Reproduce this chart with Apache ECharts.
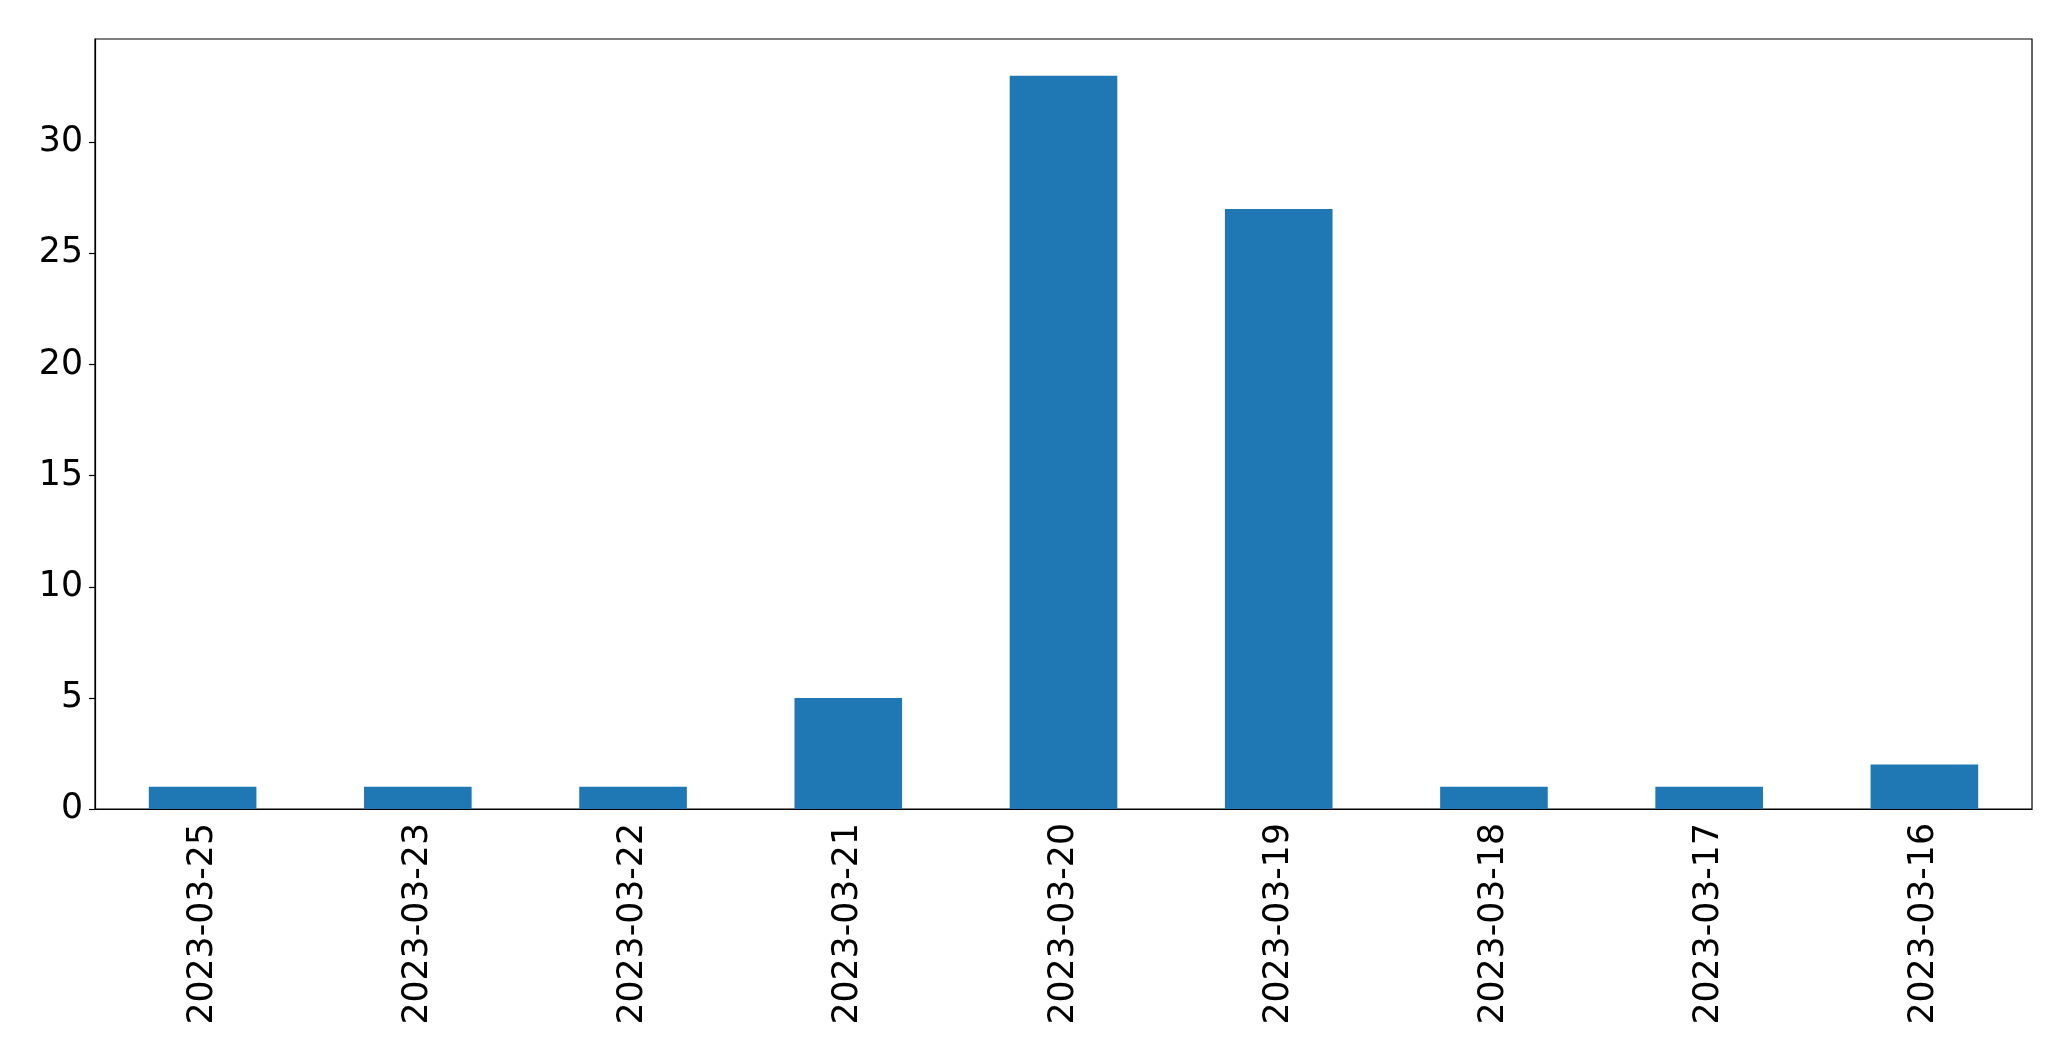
<!DOCTYPE html>
<html>
<head>
<meta charset="utf-8">
<script src="https://cdn.jsdelivr.net/npm/echarts@6/dist/echarts.min.js"></script>
<style>html,body{margin:0;padding:0;background:#fff}#c{width:2071px;height:1061px}</style>
</head>
<body>
<div id="c"></div>
<script>
const categories = ["2023-03-25","2023-03-23","2023-03-22","2023-03-21","2023-03-20","2023-03-19","2023-03-18","2023-03-17","2023-03-16"];
const values = [1, 1, 1, 5, 33, 27, 1, 1, 2];
const yTicks = [0, 5, 10, 15, 20, 25, 30];

const chart = echarts.init(document.getElementById('c'), null, {renderer: 'canvas'});
const font = 'DejaVu Sans';
chart.setOption({
  animation: false,
  backgroundColor: '#ffffff',
  grid: {left: 95, right: 39, top: 39, bottom: 252, show: true, borderColor: '#000', borderWidth: 1.2, backgroundColor: 'transparent'},
  xAxis: {
    type: 'category',
    data: categories,
    axisLine: {lineStyle: {color: '#000', width: 1.2}},
    axisTick: {alignWithLabel: true, length: 6, lineStyle: {color: '#000', width: 1.2}},
    axisLabel: {rotate: 90, margin: 14, color: '#000', fontFamily: font, fontSize: 34.7, interval: 0},
    splitLine: {show: false}
  },
  yAxis: {
    type: 'value',
    min: 0,
    max: 34.65,
    interval: 5,
    axisLine: {show: true, lineStyle: {color: '#000', width: 1.2}},
    axisTick: {show: true, length: 6, lineStyle: {color: '#000', width: 1.2}},
    axisLabel: {showMaxLabel: false, margin: 12, color: '#000', fontFamily: font, fontSize: 34.7,
      formatter: v => yTicks.includes(v) ? String(v) : ''},
    splitLine: {show: false}
  },
  series: [{
    type: 'bar',
    data: values,
    barWidth: '50%',
    itemStyle: {color: '#1f77b4'}
  }]
});
</script>
</body>
</html>
